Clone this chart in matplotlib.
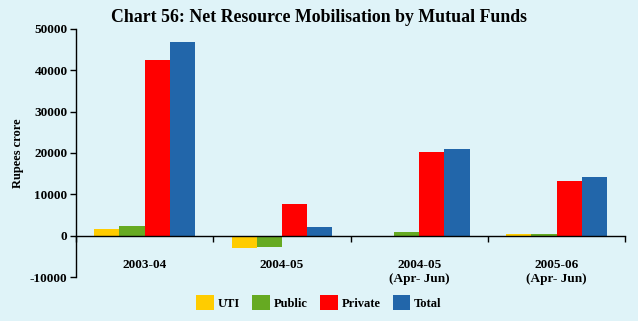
import matplotlib
matplotlib.use("Agg")
import matplotlib.pyplot as plt
import numpy as np

categories = ["2003-04", "2004-05", "2004-05\n(Apr- Jun)", "2005-06\n(Apr- Jun)"]
series_names = ["UTI", "Public", "Private", "Total"]
uti = [1650, -2900, 0, 450]
public = [2400, -2700, 1000, 450]
private = [42500, 7600, 20300, 13100]
total = [46800, 2200, 21000, 14300]
colors = ["#FFCC00", "#66AA22", "#FF0000", "#2266AA"]
yticks = [-10000, 0, 10000, 20000, 30000, 40000, 50000]

plt.rcParams['font.family'] = ['Liberation Serif', 'DejaVu Serif']
bg = "#DFF3F8"
fig = plt.figure(figsize=(6.38, 3.21), dpi=100, facecolor=bg)
ax = fig.add_axes([0.119, 0.137, 0.861, 0.773])
ax.set_facecolor(bg)

data = [uti, public, private, total]
n = len(categories)
x = np.arange(n)
w = 0.183
for i, (vals, c, name) in enumerate(zip(data, colors, series_names)):
    ax.bar(x + (i - 1.5) * w, vals, width=w, color=c, label=name, edgecolor='none')

ax.set_xlim(-0.5, n - 0.5)
ax.set_ylim(-10000, 50000)
ax.set_yticks(yticks)
ax.set_yticklabels([str(v) for v in yticks], fontsize=9.5, fontweight='bold')
ax.tick_params(axis='y', direction='out', length=4, width=1, pad=2)

for s in ['top', 'right']:
    ax.spines[s].set_visible(False)
ax.spines['bottom'].set_position(('data', 0))
ax.spines['left'].set_linewidth(1)
ax.spines['bottom'].set_linewidth(1)

ax.set_xticks(np.arange(-0.5, n, 1.0))
ax.set_xticklabels([])
ax.tick_params(axis='x', which='major', direction='out', length=4, width=1)
ax.set_xticks(x, minor=True)
ax.set_xticklabels(categories, minor=True, fontsize=9.5, fontweight='bold', linespacing=1.2)
ax.tick_params(axis='x', which='minor', length=0, pad=17)

ax.set_ylabel("Rupees crore", fontsize=9, fontweight='bold', labelpad=4)
fig.text(0.5, 0.945, "Chart 56: Net Resource Mobilisation by Mutual Funds",
         ha='center', va='center', fontsize=12.8, fontweight='bold')

leg = fig.legend(loc='center', bbox_to_anchor=(0.5, 0.058), ncol=4, frameon=False,
                 prop={'weight': 'bold', 'size': 9},
                 handlelength=1.4, handleheight=1.4, handletextpad=0.3, columnspacing=1.0)

fig.savefig("out.png", dpi=100, facecolor=bg)
